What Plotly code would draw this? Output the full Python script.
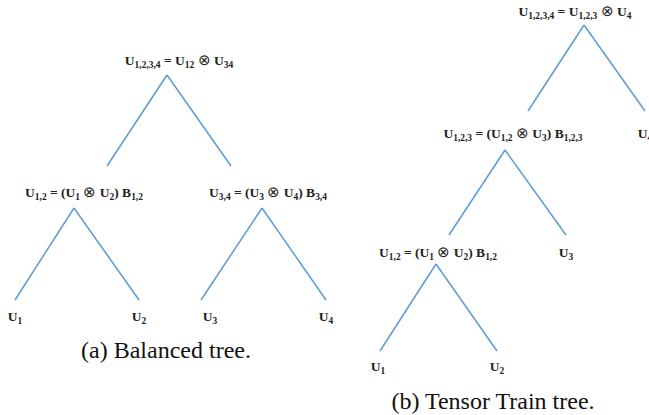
import plotly.graph_objects as go

W, H = 649, 415
line_color = '#5B9BD5'

# node labels (a) balanced tree and (b) tensor train tree
label_text = [
    'U<sub>1,2,3,4</sub> = U<sub>12</sub> ⊗ U<sub>34</sub>',
    'U<sub>1,2</sub> = (U<sub>1</sub> ⊗ U<sub>2</sub>) B<sub>1,2</sub>',
    'U<sub>3,4</sub> = (U<sub>3</sub> ⊗ U<sub>4</sub>) B<sub>3,4</sub>',
    'U<sub>1</sub>', 'U<sub>2</sub>', 'U<sub>3</sub>', 'U<sub>4</sub>',
    'U<sub>1,2,3,4</sub> = U<sub>1,2,3</sub> ⊗ U<sub>4</sub>',
    'U<sub>1,2,3</sub> = (U<sub>1,2</sub> ⊗ U<sub>3</sub>) B<sub>1,2,3</sub>',
    'U<sub>4</sub>',
    'U<sub>1,2</sub> = (U<sub>1</sub> ⊗ U<sub>2</sub>) B<sub>1,2</sub>',
    'U<sub>3</sub>',
    'U<sub>1</sub>', 'U<sub>2</sub>',
]
label_x = [179, 84, 268, 15, 139, 210, 326, 575, 513, 645, 438, 566, 378, 497]
label_y = [62, 194, 194, 318, 318, 318, 318, 13, 135, 135, 254, 254, 368, 368]

# tree branches: parent apex -> child end
edge_x0 = [167, 167, 74, 74, 262, 262, 584, 584, 505, 505, 436, 436]
edge_y0 = [75, 75, 208, 208, 208, 208, 25, 25, 150, 150, 264, 264]
edge_x1 = [107, 231, 15, 139, 201, 326, 528, 645, 449, 566, 380, 497]
edge_y1 = [166, 166, 300, 300, 300, 300, 111, 111, 235, 235, 351, 351]

captions = ['(a) Balanced tree.', '(b) Tensor Train tree.']
caption_x = [166, 493]
caption_y = [352, 403]

serif = 'Liberation Serif, Times New Roman, serif'

xs, ys = [], []
for x0, y0, x1, y1 in zip(edge_x0, edge_y0, edge_x1, edge_y1):
    xs += [x0, x1, None]
    ys += [y0, y1, None]

# bold labels, but keep the ⊗ light and a bit larger
otimes = '</b><span style="font-size:15px">⊗</span><b>'
labels = ['<b>' + t.replace('⊗', otimes) + '</b>' for t in label_text]

fig = go.Figure()
fig.add_trace(go.Scatter(x=xs, y=ys, mode='lines',
                         line=dict(color=line_color, width=1.5),
                         hoverinfo='skip'))
fig.add_trace(go.Scatter(x=label_x, y=label_y, mode='text', text=labels,
                         textfont=dict(family=serif, size=13.5, color='#222'),
                         textposition='middle center', hoverinfo='skip',
                         cliponaxis=False))
fig.add_trace(go.Scatter(x=caption_x, y=caption_y, mode='text', text=captions,
                         textfont=dict(family=serif, size=24, color='#111'),
                         textposition='middle center', hoverinfo='skip',
                         cliponaxis=False))

fig.update_layout(
    width=W, height=H,
    margin=dict(l=0, r=0, t=0, b=0),
    paper_bgcolor='white', plot_bgcolor='white',
    showlegend=False,
    xaxis=dict(range=[0, W], visible=False, fixedrange=True),
    yaxis=dict(range=[H, 0], visible=False, fixedrange=True),
)

# drop the default page margin so the figure sits at the window corner
fig.write_html("out.html", config={'displayModeBar': False},
               post_script="document.body.style.margin='0';")
